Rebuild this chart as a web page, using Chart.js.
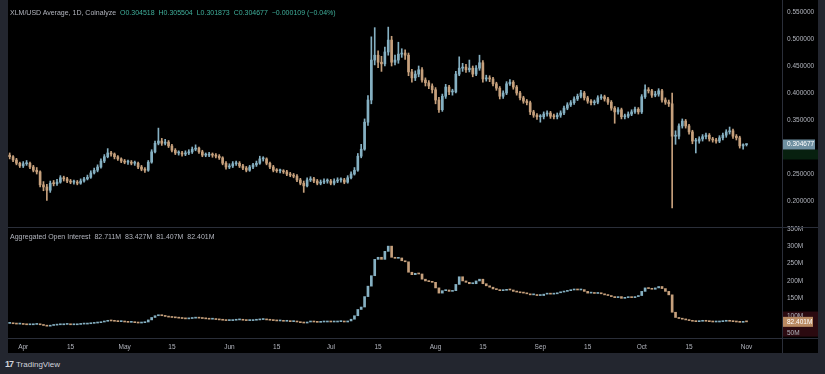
<!DOCTYPE html>
<html>
<head>
<meta charset="utf-8">
<script src="https://cdn.jsdelivr.net/npm/chart.js@4.4.1/dist/chart.umd.min.js"></script>
<style>
  html, body { margin: 0; padding: 0; background: #23262f; }
  body { width: 825px; height: 374px; overflow: hidden; position: relative; font-family: "Liberation Sans", Arial, sans-serif; }
  #frame { position: absolute; left: 8px; top: 0; width: 810px; height: 353px; background: #000; }
  #chart { position: absolute; left: 0; top: 0; }
  .legend { position: absolute; font-size: 7px; color: #b2b5be; white-space: pre; line-height: 9px; }
  .legend .val { color: #3fae9a; }
  #legendTop { left: 2px; top: 8px; }
  #legendOi { left: 2px; top: 232px; }
  #brand { position: absolute; left: 5px; top: 359px; font-size: 8px; color: #d1d4dc; white-space: pre; }
  #brand b { font-size: 9px; letter-spacing: -1px; margin-right: 3px; }
</style>
</head>
<body>
<div id="frame">
  <canvas id="chart" width="810" height="353"></canvas>
  <div class="legend" id="legendTop">XLM/USD Average, 1D, Coinalyze  <span class="val">O0.304518  H0.305504  L0.301873  C0.304677  −0.000109 (−0.04%)</span></div>
  <div class="legend" id="legendOi">Aggregated Open Interest  82.711M  83.427M  81.407M  82.401M</div>
</div>
<div id="brand"><b>17</b>TradingView</div>

<script>
// Daily candles, 28 Mar .. 1 Nov 2025
const startDate = new Date(2025, 2, 28);
const totalSlots = 229; // trading days + empty space right of the last candle
const monthNames = ['Jan', 'Feb', 'Mar', 'Apr', 'May', 'Jun', 'Jul', 'Aug', 'Sep', 'Oct', 'Nov', 'Dec'];

const priceTicks = [0.20, 0.25, 0.30, 0.35, 0.40, 0.45, 0.50, 0.55];
const oiTicks = [50, 100, 150, 200, 250, 300, 350];

const firstOpen = 0.285;
const closes = [
  0.282,0.276,0.270,0.265,0.269,0.270,0.263,0.257,0.254,0.230,
  0.226,0.220,0.233,0.232,0.235,0.243,0.241,0.237,0.235,0.235,
  0.233,0.237,0.241,0.244,0.252,0.257,0.263,0.274,0.282,0.289,
  0.287,0.282,0.278,0.274,0.272,0.272,0.270,0.270,0.263,0.259,
  0.257,0.272,0.291,0.307,0.311,0.307,0.309,0.302,0.294,0.289,
  0.289,0.287,0.289,0.291,0.296,0.298,0.291,0.285,0.285,0.286,
  0.285,0.283,0.280,0.270,0.263,0.265,0.269,0.270,0.265,0.261,
  0.257,0.263,0.267,0.270,0.278,0.278,0.270,0.263,0.257,0.256,
  0.256,0.254,0.250,0.248,0.246,0.239,0.233,0.228,0.239,0.241,
  0.237,0.233,0.235,0.237,0.237,0.233,0.237,0.239,0.239,0.235,
  0.243,0.250,0.257,0.283,0.296,0.346,0.387,0.461,0.470,0.457,
  0.454,0.476,0.498,0.457,0.461,0.472,0.474,0.470,0.439,0.428,
  0.435,0.443,0.424,0.419,0.413,0.406,0.387,0.369,0.394,0.411,
  0.402,0.402,0.435,0.446,0.448,0.443,0.446,0.435,0.446,0.456,
  0.426,0.428,0.426,0.417,0.409,0.394,0.400,0.417,0.420,0.411,
  0.400,0.391,0.385,0.382,0.365,0.359,0.356,0.356,0.361,0.363,
  0.357,0.356,0.359,0.363,0.372,0.378,0.382,0.389,0.394,0.400,
  0.391,0.385,0.382,0.383,0.391,0.393,0.389,0.383,0.372,0.365,
  0.369,0.356,0.357,0.361,0.365,0.370,0.365,0.393,0.406,0.404,
  0.396,0.398,0.404,0.387,0.383,0.380,0.320,0.320,0.339,0.348,
  0.339,0.328,0.311,0.311,0.315,0.319,0.322,0.315,0.313,0.311,
  0.317,0.322,0.328,0.330,0.320,0.317,0.302,0.3045,0.304677
];
const highs = [
  0.289,0.284,0.279,0.272,0.273,0.275,0.272,0.266,0.262,0.256,
  0.236,0.231,0.237,0.238,0.240,0.247,0.246,0.244,0.240,0.239,
  0.238,0.241,0.244,0.248,0.256,0.261,0.267,0.278,0.286,0.297,
  0.292,0.289,0.284,0.280,0.277,0.276,0.275,0.274,0.272,0.266,
  0.262,0.275,0.295,0.311,0.335,0.316,0.314,0.312,0.305,0.297,
  0.293,0.292,0.293,0.295,0.300,0.304,0.300,0.294,0.289,0.290,
  0.289,0.288,0.286,0.282,0.273,0.269,0.273,0.274,0.273,0.268,
  0.264,0.266,0.270,0.274,0.283,0.282,0.280,0.272,0.266,0.260,
  0.259,0.258,0.257,0.253,0.251,0.249,0.242,0.237,0.243,0.245,
  0.244,0.240,0.239,0.241,0.241,0.240,0.241,0.243,0.243,0.242,
  0.247,0.254,0.262,0.288,0.305,0.352,0.395,0.504,0.521,0.478,
  0.468,0.485,0.522,0.505,0.470,0.494,0.482,0.480,0.474,0.444,
  0.441,0.450,0.447,0.428,0.423,0.417,0.410,0.392,0.398,0.416,
  0.414,0.407,0.440,0.467,0.455,0.453,0.461,0.450,0.451,0.470,
  0.460,0.433,0.432,0.429,0.420,0.412,0.404,0.421,0.425,0.423,
  0.414,0.403,0.394,0.388,0.385,0.368,0.362,0.360,0.365,0.367,
  0.366,0.361,0.363,0.367,0.376,0.382,0.386,0.393,0.398,0.405,
  0.403,0.394,0.388,0.387,0.395,0.397,0.396,0.392,0.386,0.375,
  0.373,0.372,0.361,0.365,0.369,0.374,0.373,0.397,0.415,0.410,
  0.407,0.403,0.408,0.407,0.391,0.387,0.400,0.330,0.343,0.352,
  0.351,0.342,0.331,0.316,0.319,0.323,0.326,0.325,0.318,0.316,
  0.321,0.326,0.332,0.337,0.333,0.323,0.320,0.306,0.305504
];
const lows = [
  0.278,0.273,0.267,0.262,0.262,0.266,0.260,0.254,0.250,0.226,
  0.219,0.201,0.216,0.228,0.229,0.233,0.237,0.234,0.232,0.231,
  0.230,0.231,0.235,0.239,0.242,0.250,0.254,0.261,0.271,0.280,
  0.283,0.278,0.275,0.271,0.269,0.268,0.267,0.266,0.260,0.256,
  0.253,0.255,0.270,0.289,0.304,0.303,0.304,0.299,0.291,0.286,
  0.285,0.283,0.284,0.286,0.288,0.293,0.288,0.282,0.282,0.282,
  0.281,0.280,0.277,0.267,0.259,0.260,0.262,0.266,0.262,0.258,
  0.254,0.255,0.260,0.264,0.268,0.274,0.267,0.260,0.254,0.253,
  0.252,0.251,0.247,0.245,0.243,0.236,0.230,0.216,0.226,0.236,
  0.234,0.230,0.230,0.232,0.233,0.230,0.230,0.234,0.235,0.232,
  0.233,0.241,0.248,0.255,0.280,0.294,0.340,0.380,0.452,0.447,
  0.440,0.450,0.470,0.450,0.452,0.455,0.466,0.462,0.432,0.420,
  0.423,0.430,0.420,0.413,0.408,0.400,0.380,0.364,0.366,0.390,
  0.397,0.396,0.400,0.432,0.440,0.438,0.439,0.430,0.432,0.442,
  0.420,0.422,0.421,0.413,0.405,0.389,0.390,0.397,0.414,0.407,
  0.396,0.387,0.381,0.378,0.360,0.355,0.351,0.346,0.352,0.357,
  0.353,0.352,0.352,0.355,0.360,0.369,0.375,0.379,0.386,0.391,
  0.387,0.381,0.378,0.378,0.380,0.388,0.385,0.379,0.368,0.344,
  0.361,0.352,0.352,0.354,0.358,0.362,0.361,0.362,0.390,0.400,
  0.392,0.393,0.394,0.383,0.379,0.375,0.187,0.305,0.315,0.335,
  0.335,0.324,0.306,0.289,0.307,0.311,0.315,0.311,0.309,0.307,
  0.308,0.313,0.318,0.324,0.316,0.313,0.298,0.296,0.301873
];

// Aggregated open interest, millions
const oiFirstOpen = 78;
const oiCloses = [
  78,77,76,76,75,74,74,75,76,74,
  72,70,72,73,74,74,75,75,74,74,
  75,76,76,77,78,79,80,82,84,86,
  85,84,83,83,82,81,81,80,79,80,
  82,88,95,100,102,100,98,96,95,94,
  93,92,91,92,93,94,93,92,91,90,
  90,89,88,87,86,86,87,88,88,87,
  86,86,87,88,89,89,88,87,86,85,
  85,84,84,83,83,82,80,79,82,83,
  82,81,82,82,83,82,82,83,83,82,
  85,90,100,118,125,155,185,215,262,268,
  262,285,300,268,265,266,258,255,225,218,
  222,220,205,200,198,196,180,165,172,174,
  170,172,190,212,200,196,192,192,200,205,
  192,186,182,177,175,172,173,175,174,170,
  168,166,165,163,160,160,158,158,162,164,
  162,163,166,168,170,172,174,176,174,175,
  170,165,166,164,166,163,160,158,155,152,
  155,150,152,154,152,155,158,170,180,178,
  176,180,184,178,170,160,110,95,92,90,
  88,86,84,83,84,85,84,83,82,82,
  83,84,85,84,83,82,81,82.711,82.401
];

const BULL = '#85b0c2';
const BEAR = '#c6a07c';

// category labels, one per day
const dayDates = [];
for (let k = 0; k < totalSlots; k++) {
  dayDates.push(new Date(startDate.getFullYear(), startDate.getMonth(), startDate.getDate() + k));
}

function buildCandles(opening, closeList) {
  const opens = [];
  closeList.forEach(function(c, i) {
    opens.push(i === 0 ? opening : closeList[i - 1]);
  });
  return opens;
}

const opens = buildCandles(firstOpen, closes);
const oiOpens = buildCandles(oiFirstOpen, oiCloses);

const priceColors = closes.map((c, i) => c >= opens[i] ? BULL : BEAR);
const oiColors = oiCloses.map((c, i) => c >= oiOpens[i] ? BULL : BEAR);

const paneDecor = {
  id: 'paneDecor',
  beforeDraw(chart) {
    const ctx = chart.ctx;
    const area = chart.chartArea;
    const yOi = chart.scales.y2;
    ctx.save();
    ctx.fillStyle = '#000';
    ctx.fillRect(0, 0, chart.width, chart.height);
    // shaded band on the OI axis
    ctx.fillStyle = '#2b0a10';
    ctx.fillRect(area.right + 1, yOi.getPixelForValue(112), chart.width - area.right, yOi.getPixelForValue(40) - yOi.getPixelForValue(112));
    // dark green below the price badge
    const yP = chart.scales.y;
    ctx.fillStyle = '#07200f';
    ctx.fillRect(area.right + 1, yP.getPixelForValue(closes[closes.length - 1]) + 5, chart.width - area.right, 10);
    ctx.restore();
  },
  afterDraw(chart) {
    const ctx = chart.ctx;
    const area = chart.chartArea;
    const yP = chart.scales.y;
    const yOi = chart.scales.y2;
    ctx.save();
    ctx.strokeStyle = '#2a2e39';
    ctx.lineWidth = 1;
    ctx.beginPath();
    ctx.moveTo(0, Math.round(yP.bottom) + 0.5);
    ctx.lineTo(chart.width, Math.round(yP.bottom) + 0.5);
    ctx.moveTo(0, Math.round(area.bottom) + 0.5);
    ctx.lineTo(chart.width, Math.round(area.bottom) + 0.5);
    ctx.moveTo(Math.round(area.right) + 0.5, 0);
    ctx.lineTo(Math.round(area.right) + 0.5, chart.height);
    ctx.stroke();

    // last value badges
    ctx.font = '6.5px "Liberation Sans", Arial, sans-serif';
    ctx.textBaseline = 'middle';
    const lastP = closes[closes.length - 1];
    let y = yP.getPixelForValue(lastP);
    ctx.fillStyle = '#6e8fa0';
    ctx.fillRect(area.right + 1, y - 5, chart.width - area.right - 4, 10);
    ctx.fillStyle = '#ffffff';
    ctx.fillText(lastP.toFixed(6), area.right + 5, y);

    const lastOi = oiCloses[oiCloses.length - 1];
    y = yOi.getPixelForValue(lastOi);
    ctx.fillStyle = '#b98a62';
    ctx.fillRect(area.right + 1, y - 5, chart.width - area.right - 6, 10);
    ctx.fillStyle = '#ffffff';
    ctx.fillText(lastOi.toFixed(3) + 'M', area.right + 5, y);
    ctx.restore();
  }
};

const tickFont = { family: '"Liberation Sans", Arial, sans-serif', size: 6.5 };

// no extra room for the outer tick labels: panes run edge to edge
function flushPadding(s) {
  s.paddingTop = 0;
  s.paddingBottom = 0;
  s.paddingLeft = 0;
  s.paddingRight = 0;
}

new Chart(document.getElementById('chart'), {
  type: 'bar',
  data: {
    labels: dayDates.map(d => d.toDateString()),
    datasets: [
      {
        data: closes.map((c, i) => [lows[i], highs[i]]),
        backgroundColor: priceColors,
        yAxisID: 'y', barThickness: 1, grouped: false, order: 2
      },
      {
        data: closes.map((c, i) => [opens[i], c]),
        backgroundColor: priceColors,
        yAxisID: 'y', barThickness: 2, minBarLength: 1, grouped: false, order: 1
      },
      {
        data: oiCloses.map((c, i) => [oiOpens[i], c]),
        backgroundColor: oiColors,
        yAxisID: 'y2', barThickness: 2, minBarLength: 1, grouped: false, order: 1
      }
    ]
  },
  options: {
    responsive: false,
    animation: false,
    devicePixelRatio: 1,
    layout: { padding: 0 },
    plugins: { legend: { display: false }, tooltip: { enabled: false } },
    scales: {
      x: {
        offset: true,
        grid: { display: false, drawTicks: false },
        border: { display: false },
        ticks: {
          autoSkip: false, maxRotation: 0, color: '#b2b5be', font: tickFont, padding: 5,
          callback: function(v, i) {
            const d = dayDates[i];
            if (d.getDate() === 1) return monthNames[d.getMonth()];
            if (d.getDate() === 15) return '15';
            return '';
          }
        },
        afterFit: function(s) { s.height = 15; flushPadding(s); }
      },
      y: {
        position: 'right', stack: 'panes', stackWeight: 227,
        min: 0.1519, max: 0.5722,
        grid: { display: false, drawTicks: false },
        border: { display: false },
        ticks: { autoSkip: false, color: '#b2b5be', font: tickFont, padding: 5, callback: v => v.toFixed(6) },
        afterBuildTicks: function(s) { s.ticks = priceTicks.map(v => ({ value: v })); },
        afterFit: function(s) { s.width = 36; flushPadding(s); }
      },
      y2: {
        position: 'right', stack: 'panes', stackWeight: 111,
        min: 36, max: 355,
        grid: { display: false, drawTicks: false },
        border: { display: false },
        ticks: { autoSkip: false, color: '#b2b5be', font: tickFont, padding: 5, callback: v => v + 'M' },
        afterBuildTicks: function(s) { s.ticks = oiTicks.map(v => ({ value: v })); },
        afterFit: function(s) { s.width = 36; flushPadding(s); }
      }
    }
  },
  plugins: [paneDecor]
});
</script>
</body>
</html>
